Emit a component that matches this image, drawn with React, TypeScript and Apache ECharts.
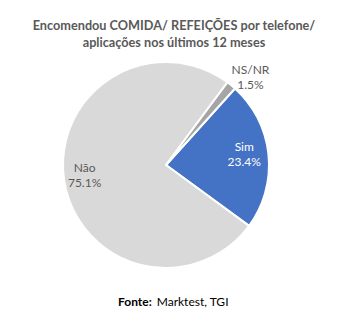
import React, { useEffect, useRef } from 'react';
import * as echarts from 'echarts';

const categories = ['Sim', 'Não', 'NS/NR'];
const values = [23.4, 75.1, 1.5];
const colors = ['#4472C4', '#D9D9D9', '#A5A5A5'];
const labelColors = ['#FFFFFF', '#595959', '#595959'];
const titleText = 'Encomendou COMIDA/ REFEIÇÕES por telefone/\naplicações nos últimos 12 meses';
const sourceLabel = 'Fonte:';
const sourceText = 'Marktest, TGI';

export default function App() {
  const ref = useRef<HTMLDivElement>(null);
  useEffect(() => {
    const chart = echarts.init(ref.current!, null, { renderer: 'svg' });
    const cx = 166, cy = 165, R = 103;
    const startDeg = 42; // clockwise from 12 o'clock
    const total = values.reduce((a, b) => a + b, 0);
    const mids: number[] = [];
    let acc = 0;
    values.forEach((v) => {
      mids.push(startDeg + ((acc + v / 2) / total) * 360);
      acc += v;
    });
    const labelPlace = [
      { r: 79, d: -2 },
      { r: 82, d: 1.5 },
      { r: 122, d: 4.5 },
    ];
    const font = 'Lato, "Noto Sans", sans-serif';
    chart.setOption({
      animation: false,
      backgroundColor: '#FFFFFF',
      title: [
        {
          text: titleText,
          left: 'center',
          top: 11,
          textStyle: {
            fontFamily: font,
            fontSize: 12.7,
            fontWeight: 'bold',
            color: '#595959',
            lineHeight: 17,
          },
        },
        {
          text: `{b|${sourceLabel}} {n|${sourceText}}`,
          left: 113,
          top: 287,
          textStyle: {
            rich: {
              b: { fontFamily: font, fontSize: 12, fontWeight: 'bold', color: '#000000' },
              n: { fontFamily: font, fontSize: 12, fontWeight: 'normal', color: '#000000' },
            },
          },
        },
      ],
      series: [
        {
          type: 'pie',
          center: [cx, cy],
          radius: [0, R],
          startAngle: 90 - startDeg,
          clockwise: true,
          itemStyle: { borderColor: '#FFFFFF', borderWidth: 2 },
          label: {
            show: true,
            position: 'inside',
            fontFamily: font,
            fontSize: 12,
            lineHeight: 15,
            formatter: (p: any) => `${p.name}\n${Number(p.value).toFixed(1)}%`,
          },
          labelLine: { show: false },
          labelLayout: (p: any) => {
            const i = p.dataIndex;
            const a = ((mids[i] + labelPlace[i].d) * Math.PI) / 180;
            return {
              x: cx + labelPlace[i].r * Math.sin(a),
              y: cy - labelPlace[i].r * Math.cos(a),
              align: 'center',
              verticalAlign: 'middle',
            };
          },
          emphasis: { disabled: true },
          data: categories.map((name, i) => ({
            name,
            value: values[i],
            itemStyle: { color: colors[i] },
            label: { color: labelColors[i] },
          })),
        },
      ],
    });
    return () => chart.dispose();
  }, []);
  return (
    <div
      ref={ref}
      style={{ position: 'fixed', left: 0, top: 0, width: 348, height: 310 }}
    />
  );
}
